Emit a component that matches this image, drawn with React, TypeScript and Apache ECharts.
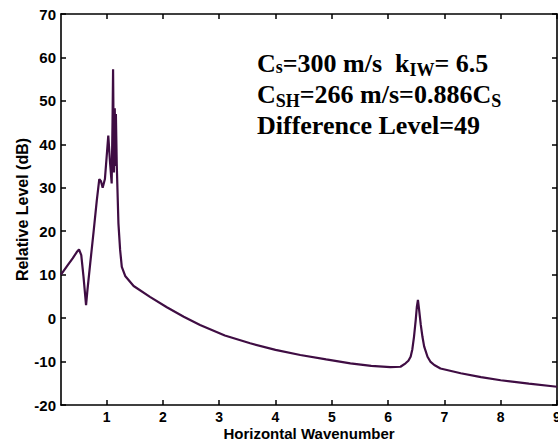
import React, { useEffect, useRef } from "react";
import * as echarts from "echarts";

// Horizontal wavenumber samples and relative level (dB)
const wavenumber = [
  0.19, 0.3, 0.4, 0.47, 0.51, 0.55, 0.59, 0.635, 0.66, 0.71, 0.77, 0.825, 0.87, 0.9, 0.93,
  0.97, 1.0, 1.03, 1.06, 1.09, 1.105, 1.115, 1.13, 1.145, 1.155, 1.165, 1.18, 1.21, 1.24,
  1.27, 1.33, 1.48, 1.77, 2.07, 2.37, 2.66, 3.1, 3.55, 4.0, 4.44, 4.9, 5.33, 5.7, 6.04, 6.22,
  6.31, 6.36, 6.4, 6.43, 6.46, 6.49, 6.51, 6.53, 6.55, 6.58, 6.61, 6.64, 6.7, 6.75, 6.82,
  6.93, 7.29, 7.65, 8.0, 8.5, 9.0,
];
const levelDb = [
  10.0, 12.0, 13.8, 15.2, 15.8, 14.5, 9.5, 3.0, 6.5, 12.7, 20.0, 27.0, 32.0, 31.5, 30.0,
  32.0, 37.0, 42.0, 36.0, 31.0, 45.0, 57.3, 33.5, 48.3, 35.0, 47.0, 35.5, 21.8, 15.7,
  11.8, 9.7, 7.4, 4.9, 2.5, 0.3, -1.6, -4.0, -5.8, -7.3, -8.5, -9.5, -10.4, -11.0, -11.3, -11.2,
  -10.4, -9.8, -8.9, -7.2, -4.3, -0.5, 2.5, 4.2, 2.0, -1.5, -4.3, -6.5, -8.9, -10.0, -10.8,
  -11.6, -12.7, -13.6, -14.3, -15.1, -15.8,
];
const xTicks = [1, 2, 3, 4, 5, 6, 7, 8, 9];
const xRange = [0.19, 9];
const yRange = [-20, 70];
const yStep = 10;

export default function App() {
  const ref = useRef<HTMLDivElement>(null);
  useEffect(() => {
    if (!ref.current) return;
    const chart = echarts.init(ref.current, null, { renderer: "svg" });
    const sans = "Liberation Sans, Arial, sans-serif";
    const serif = "Liberation Serif, Times New Roman, serif";
    const axisLine = { show: true, onZero: false, lineStyle: { color: "#000", width: 1.6 } };
    const tick = { show: true, inside: true, length: 5, lineStyle: { color: "#000", width: 1.5 } };
    const data = wavenumber.map((k, i) => [k, levelDb[i]]);
    chart.setOption({
      animation: false,
      backgroundColor: "#fff",
      grid: {
        left: 61,
        right: 1,
        top: 14,
        bottom: 39,
        containLabel: false,
        outerBoundsMode: "none",
      },
      xAxis: [
        {
          type: "value",
          min: xRange[0],
          max: xRange[1],
          name: "Horizontal Wavenumber",
          nameLocation: "middle",
          nameGap: 21,
          nameMoveOverlap: false,
          nameTextStyle: {
            fontFamily: sans,
            fontWeight: "bold",
            fontSize: 15,
            lineHeight: 15,
            color: "#000",
          },
          axisLine,
          axisTick: { ...tick, customValues: xTicks },
          axisLabel: {
            customValues: xTicks,
            fontFamily: sans,
            fontWeight: "bold",
            fontSize: 14,
            lineHeight: 14,
            color: "#000",
            margin: 5,
          },
          splitLine: { show: false },
        },
        {
          type: "value",
          position: "top",
          min: xRange[0],
          max: xRange[1],
          axisLine,
          axisTick: { ...tick, customValues: xTicks },
          axisLabel: { show: false },
          splitLine: { show: false },
        },
      ],
      yAxis: [
        {
          type: "value",
          min: yRange[0],
          max: yRange[1],
          interval: yStep,
          name: "Relative Level (dB)",
          nameLocation: "middle",
          nameGap: 31,
          nameMoveOverlap: false,
          nameTextStyle: { fontFamily: sans, fontWeight: "bold", fontSize: 16, color: "#000" },
          axisLine,
          axisTick: tick,
          axisLabel: { fontFamily: sans, fontWeight: "bold", fontSize: 15, color: "#000", margin: 5 },
          splitLine: { show: false },
        },
        {
          type: "value",
          position: "right",
          min: yRange[0],
          max: yRange[1],
          interval: yStep,
          axisLine,
          axisTick: tick,
          axisLabel: { show: false },
          splitLine: { show: false },
        },
      ],
      series: [
        {
          type: "line",
          data,
          symbol: "none",
          lineStyle: { color: "#3f0d43", width: 2.2 },
          itemStyle: { color: "#3f0d43" },
        },
      ],
      graphic: [
        {
          type: "text",
          left: 257,
          top: 48,
          style: {
            text:
              "{n|C}{a|s}{n|=300 m/s  k}{b|IW}{n|= 6.5}\n{n|C}{b|SH}{n|=266 m/s=0.886C}{b|S}\n{n|Difference Level=49}",
            fontFamily: serif,
            fontWeight: "bold",
            fontSize: 26,
            lineHeight: 31,
            fill: "#000",
            rich: {
              n: { fontFamily: serif, fontWeight: "bold", fontSize: 26, lineHeight: 31, color: "#000" },
              a: {
                fontFamily: serif,
                fontWeight: "bold",
                fontSize: 18,
                lineHeight: 31,
                padding: [7, 0, 0, 0],
                color: "#000",
              },
              b: {
                fontFamily: serif,
                fontWeight: "bold",
                fontSize: 18,
                lineHeight: 31,
                padding: [12, 0, 0, 0],
                color: "#000",
              },
            },
          },
        },
      ],
    });
    return () => chart.dispose();
  }, []);
  return (
    <div
      ref={ref}
      style={{ position: "absolute", left: 0, top: 0, width: 558, height: 444, background: "#fff" }}
    />
  );
}
